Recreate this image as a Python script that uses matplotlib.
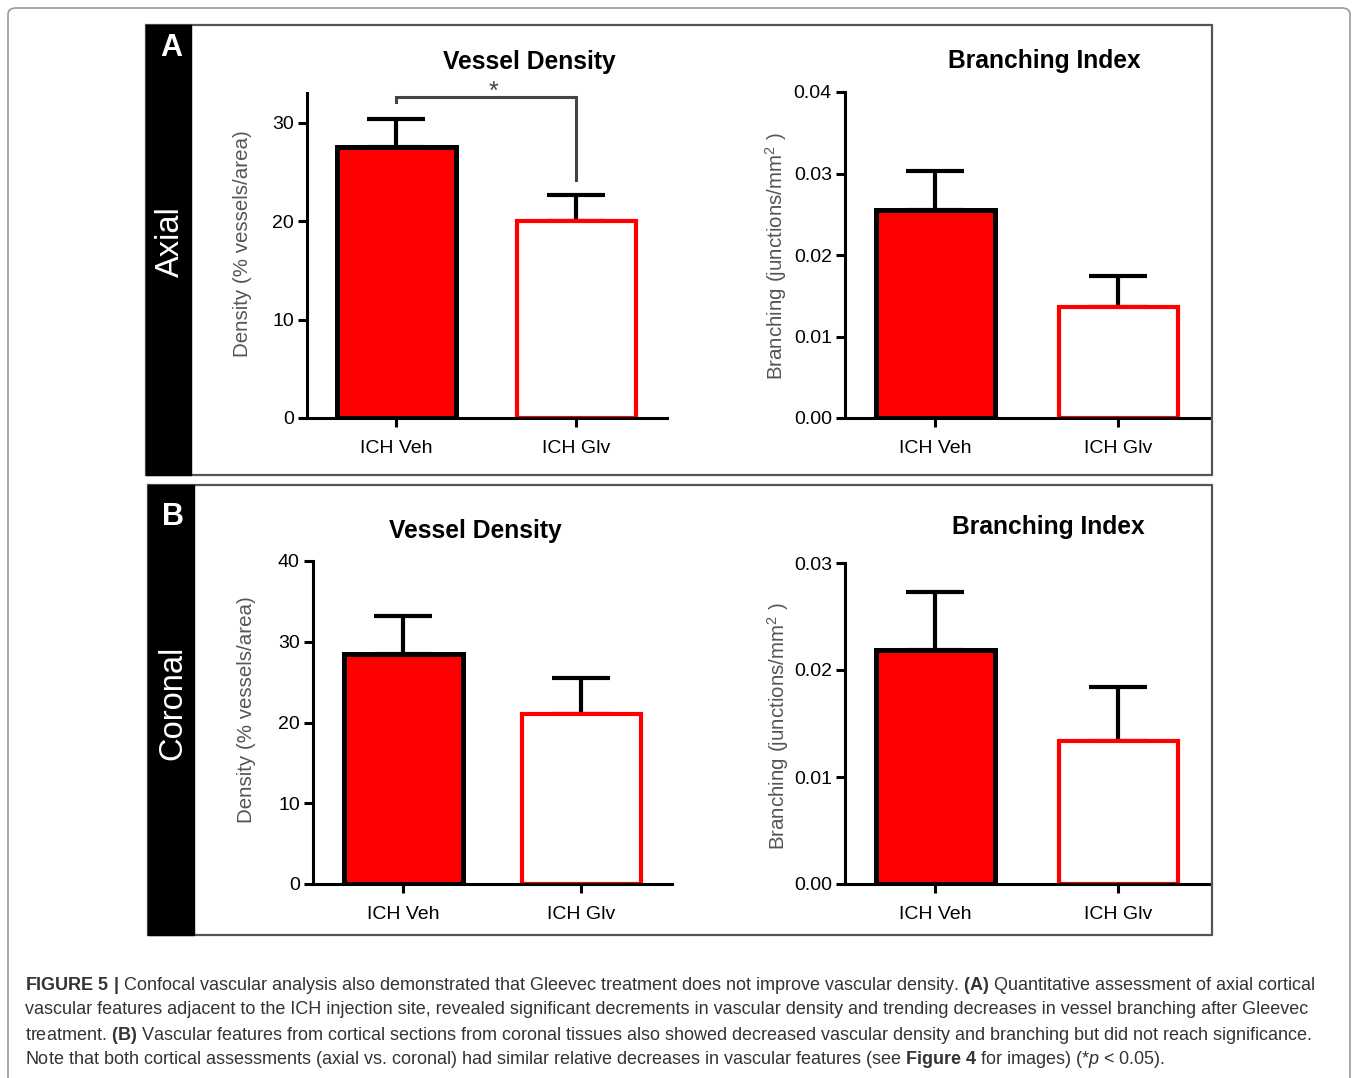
import numpy as np
import matplotlib
matplotlib.use("Agg")
import matplotlib.pyplot as plt
from matplotlib.patches import Rectangle, FancyBboxPatch

plt.rcParams['font.family'] = ['Liberation Sans', 'DejaVu Sans']
plt.rcParams['mathtext.fontset'] = 'custom'
plt.rcParams['mathtext.rm'] = 'Liberation Sans'
plt.rcParams['mathtext.bf'] = 'Liberation Sans:bold'
plt.rcParams['mathtext.it'] = 'Liberation Sans:italic'

# data
groups = ['ICH Veh', 'ICH Glv']
axial_density = [27.5, 20.0]
axial_density_sem = [2.85, 2.6]
axial_branch = [0.0255, 0.0136]
axial_branch_sem = [0.0048, 0.0038]
coronal_density = [28.5, 21.05]
coronal_density_sem = [4.7, 4.45]
coronal_branch = [0.0219, 0.0134]
coronal_branch_sem = [0.0054, 0.0050]

W, H = 1357, 1078
fig = plt.figure(figsize=(W / 100, H / 100), dpi=100)

def fx(x):
    return x / W

def fy(y):
    return 1 - y / H

# outer frame and panel boxes
fig.patches.append(FancyBboxPatch((fx(8), fy(1100)), fx(1350) - fx(8), fy(8) - fy(1100),
                                  boxstyle="round,pad=0,rounding_size=0.006",
                                  transform=fig.transFigure, fill=False,
                                  edgecolor='#9a9a9a', lw=1.2))
for (x0, x1, y0, y1, sx) in [(146, 1212, 25, 475, 191), (148, 1212, 485, 935, 194)]:
    fig.patches.append(Rectangle((fx(x0), fy(y1)), fx(x1) - fx(x0), fy(y0) - fy(y1),
                                 transform=fig.transFigure, fill=False,
                                 edgecolor='#555555', lw=1.6))
    fig.patches.append(Rectangle((fx(x0), fy(y1)), fx(sx) - fx(x0), fy(y0) - fy(y1),
                                 transform=fig.transFigure, facecolor='black',
                                 edgecolor='black', lw=1))

fig.text(fx(171), fy(48), 'A', color='white', fontsize=22, fontweight='bold',
         ha='center', va='center')
fig.text(fx(170), fy(242), 'Axial', color='white', fontsize=23.5, rotation=90,
         ha='center', va='center')
fig.text(fx(173), fy(517), 'B', color='white', fontsize=22, fontweight='bold',
         ha='center', va='center')
fig.text(fx(173), fy(703), 'Coronal', color='white', fontsize=23.5, rotation=90,
         ha='center', va='center')


def bar_panel(rect, centers, vals, errs, ylim, yticks, ticklabels, title, title_xy,
              ylabel, ylabel_xy):
    # rect: (yaxis_px, top_px, right_px, bottom_px)
    xa, top, right, bot = rect
    ax = fig.add_axes([fx(xa), fy(bot), fx(right) - fx(xa), fy(top) - fy(bot)])
    sp = centers[1] - centers[0]
    ax.set_xlim((xa - centers[0]) / sp, 1 + (right - centers[1]) / sp)
    ax.set_ylim(*ylim)
    width = 119 / sp
    x = np.arange(len(vals))
    ax.errorbar(x, vals, yerr=[[0, 0], errs], fmt='none', ecolor='black',
                elinewidth=3, capsize=21, capthick=3, zorder=1)
    ax.bar(x[0], vals[0], width, color='#ff0000', edgecolor='black', lw=3.6, zorder=2)
    ax.bar(x[1], vals[1], width, color='white', edgecolor='#ff0000', lw=3.0, zorder=2)
    for s in ['top', 'right']:
        ax.spines[s].set_visible(False)
    for s in ['left', 'bottom']:
        ax.spines[s].set_linewidth(2.2)
    ax.set_xticks(x)
    ax.set_xticklabels(groups, fontsize=14)
    ax.set_yticks(yticks)
    ax.set_yticklabels(ticklabels, fontsize=14)
    ax.tick_params(axis='both', width=2.2, length=6.5, pad=3)
    ax.tick_params(axis='x', pad=9)
    ax.patch.set_alpha(0)
    fig.text(fx(title_xy[0]), fy(title_xy[1]), title, fontsize=17.7, fontweight='bold',
             ha='center', va='center')
    fig.text(fx(ylabel_xy[0]), fy(ylabel_xy[1]), ylabel, fontsize=14.8,
             color='#555555', rotation=90, ha='center', va='center')
    return ax


ax1 = bar_panel((307, 93, 667, 418), (396, 576), axial_density, axial_density_sem,
                (0, 33), [0, 10, 20, 30], ['0', '10', '20', '30'],
                'Vessel Density', (529, 62), 'Density (% vessels/area)', (243, 244))
# significance bracket
ax1.plot([0, 0, 1, 1], [32.1, 32.6, 32.6, 24.2], color='#444444', lw=2.2,
         clip_on=False, solid_joinstyle='miter')
ax1.text(0.54, 31.9, '*', color='#444444', fontsize=18, ha='center', va='bottom')

bar_panel((845, 92, 1210, 418), (935, 1118), axial_branch, axial_branch_sem,
          (0, 0.04), [0, 0.01, 0.02, 0.03, 0.04], ['0.00', '0.01', '0.02', '0.03', '0.04'],
          'Branching Index', (1044, 61), r'Branching (junctions/mm$^2$ )', (776, 256))

bar_panel((313, 561, 672, 884), (403, 581), coronal_density, coronal_density_sem,
          (0, 40), [0, 10, 20, 30, 40], ['0', '10', '20', '30', '40'],
          'Vessel Density', (475, 531), 'Density (% vessels/area)', (247, 710))

bar_panel((845, 563, 1210, 884), (935, 1118), coronal_branch, coronal_branch_sem,
          (0, 0.03), [0, 0.01, 0.02, 0.03], ['0.00', '0.01', '0.02', '0.03'],
          'Branching Index', (1048, 527), r'Branching (junctions/mm$^2$ )', (778, 726))

caption = [
    r"$\bf{FIGURE\ 5\ |}$ Confocal vascular analysis also demonstrated that Gleevec treatment does not improve vascular density. $\bf{(A)}$ Quantitative assessment of axial cortical",
    r"vascular features adjacent to the ICH injection site, revealed significant decrements in vascular density and trending decreases in vessel branching after Gleevec",
    r"treatment. $\bf{(B)}$ Vascular features from cortical sections from coronal tissues also showed decreased vascular density and branching but did not reach significance.",
    r"Note that both cortical assessments (axial vs. coronal) had similar relative decreases in vascular features (see $\bf{Figure\ 4}$ for images) (*$\it{p}$ < 0.05).",
]
for i, line in enumerate(caption):
    fig.text(fx(25), fy(985 + 25 * i), line, fontsize=13.0, color='#333333',
             ha='left', va='center')

plt.savefig('out.png', dpi=100)
